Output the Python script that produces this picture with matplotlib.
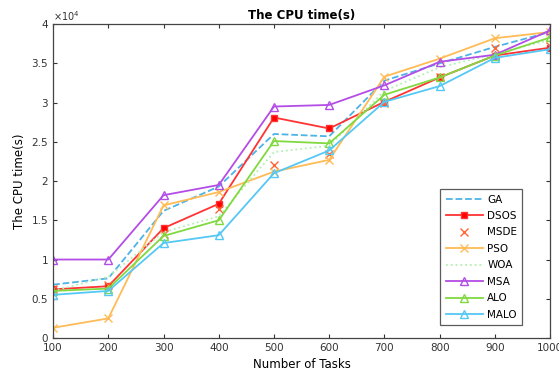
import matplotlib
matplotlib.use("Agg")
import matplotlib.pyplot as plt
from matplotlib.ticker import FuncFormatter

tasks = [100, 200, 300, 400, 500, 600, 700, 800, 900, 1000]
ga   = [0.68, 0.76, 1.62, 1.93, 2.60, 2.57, 3.28, 3.50, 3.71, 3.90]
dsos = [0.62, 0.66, 1.40, 1.71, 2.81, 2.67, 3.01, 3.32, 3.60, 3.70]
msde = [0.62, 0.68, 1.32, 1.64, 2.20, 2.35, 3.00, 3.32, 3.70, 3.72]
pso  = [0.13, 0.25, 1.69, 1.86, 2.12, 2.27, 3.33, 3.56, 3.82, 3.90]
woa  = [0.60, 0.78, 1.35, 1.55, 2.37, 2.45, 3.15, 3.45, 3.62, 3.80]
msa  = [1.00, 1.00, 1.82, 1.95, 2.95, 2.97, 3.22, 3.52, 3.61, 3.92]
alo  = [0.60, 0.63, 1.30, 1.50, 2.51, 2.48, 3.10, 3.32, 3.60, 3.83]
malo = [0.55, 0.60, 1.21, 1.31, 2.10, 2.39, 3.01, 3.21, 3.57, 3.68]

scale = 1e4
fig = plt.figure(figsize=(5.59, 3.83), dpi=100)
ax = fig.add_axes([0.095, 0.1175, 0.889, 0.8195])

def s(v):
    return [x * scale for x in v]

lw = 1.3
ax.plot(tasks, s(ga), '--', color='#4DB3E6', lw=lw, label='GA')
ax.plot(tasks, s(dsos), '-', color='#FF3333', lw=lw, marker='s', ms=4, mfc='#FF0000', label='DSOS')
ax.plot(tasks, s(msde), 'x', color='#FF6633', ms=6, mew=1.0, label='MSDE')
ax.plot(tasks, s(pso), '-', color='#FFBB55', lw=lw, marker='x', ms=6, label='PSO')
ax.plot(tasks, s(woa), ':', color='#B3F0B3', lw=lw, label='WOA')
ax.plot(tasks, s(msa), '-', color='#B34DE6', lw=lw, marker='^', ms=6, mfc='none', label='MSA')
ax.plot(tasks, s(alo), '-', color='#80D940', lw=lw, marker='^', ms=6, mfc='none', label='ALO')
ax.plot(tasks, s(malo), '-', color='#55C8F5', lw=lw, marker='^', ms=6, mfc='none', label='MALO')

ax.set_xlim(100, 1000)
ax.set_ylim(0, 4e4)
ax.set_xticks(tasks)
ax.set_yticks([i * 0.5e4 for i in range(9)])
ax.yaxis.set_major_formatter(FuncFormatter(lambda v, p: '%g' % (v / scale)))
ax.text(0.0, 1.005, r'$\times10^4$', transform=ax.transAxes, fontsize=7, ha='left', va='bottom',
        color='#333333')
ax.tick_params(direction='in', top=True, right=True, labelsize=7.5, length=3, colors='#333333')
for sp in ax.spines.values():
    sp.set_color('#444444')
    sp.set_linewidth(0.9)

ax.set_title('The CPU time(s)', fontsize=8.5, fontweight='bold', pad=4)
ax.set_xlabel('Number of Tasks', fontsize=8.5)
ax.set_ylabel('The CPU time(s)', fontsize=8.5)

leg = ax.legend(loc='lower right', bbox_to_anchor=(0.955, 0.025), fontsize=7.5, fancybox=False,
                edgecolor='#333333', handlelength=3.6, labelspacing=0.62, borderpad=0.5,
                handletextpad=0.4)
leg.get_frame().set_linewidth(0.9)

fig.savefig('out.png', dpi=100)
